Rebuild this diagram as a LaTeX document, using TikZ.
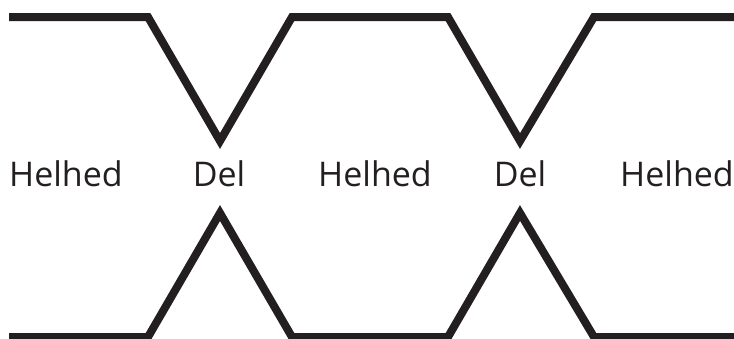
\documentclass[tikz,border=0pt]{standalone}
\usepackage{fontspec}
\setmainfont{Open Sans}
\usepackage{tikz}
\definecolor{ink}{RGB}{35,31,32}

\begin{document}
\begin{tikzpicture}[x=1pt,y=-1pt,
  edge/.style={line width=8pt,draw=ink,line join=miter},
  word/.style={font=\fontsize{34}{40}\selectfont,text=ink,anchor=base,inner sep=0pt}]
\useasboundingbox (0,0) rectangle (734,338);
% upper contour
\draw[edge] (9,17)--(148,17)--(220,141)--(292,17)--(448,17)--(520,141)--(594,17)--(740,17);
% lower contour
\draw[edge] (9,337)--(148,337)--(220,213)--(292,337)--(448,337)--(520,213)--(594,337)--(740,337);
% labels
\node[word] (h1) at (66,186){Helhed};
\node[word] (d1) at (219,186){Del};
\node[word] (h2) at (375,186){Helhed};
\node[word] (d2) at (520,186){Del};
\node[word] (h3) at (677,186){Helhed};
\end{tikzpicture}
\end{document}
